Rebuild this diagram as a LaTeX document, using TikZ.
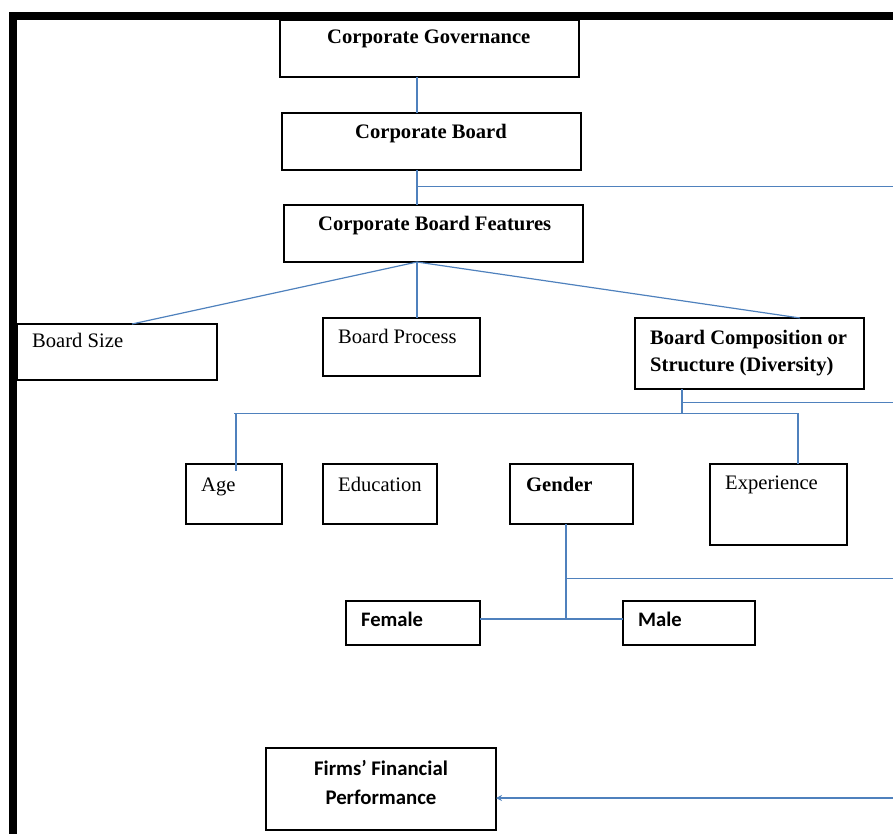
\documentclass[tikz,border=0pt]{standalone}
\usepackage{fontspec}
\setmainfont{Liberation Serif}
\newfontfamily\calib{Carlito}
\usetikzlibrary{arrows.meta}
\definecolor{lineblue}{HTML}{4F81BD}
\begin{document}
\begin{tikzpicture}[x=1pt,y=-1pt,
  box/.style={draw=black, line width=1.3pt, inner sep=0pt, outer sep=0pt, rectangle},
  conn/.style={draw=lineblue, line width=1.2pt},
  ser/.style={anchor=base west, inner sep=0pt, font=\fontsize{20.6}{24}\selectfont},
  serb/.style={anchor=base west, inner sep=0pt, font=\fontsize{20.6}{24}\selectfont\bfseries},
  sanb/.style={anchor=base west, inner sep=0pt, font=\calib\fontsize{20.6}{24}\selectfont\bfseries},
  sanc/.style={anchor=base, inner sep=0pt, font=\calib\fontsize{20.8}{24}\selectfont\bfseries},
  frame/.style={fill=black, draw=none}]
\useasboundingbox (0,0) rectangle (893,834);
% thick frame
\fill[frame] (9,12) rectangle (893,20);
\fill[frame] (9,12) rectangle (17,834);
% boxes
\node[box, minimum width=299pt, minimum height=57pt] (CG) at (429.5,48.5) {};
\node[box, minimum width=299pt, minimum height=57pt] (CB) at (431.5,141.5) {};
\node[box, minimum width=299pt, minimum height=57pt] (CBF) at (433.5,233.5) {};
\node[box, minimum width=200pt, minimum height=56pt] (BS) at (117,352) {};
\node[box, minimum width=157pt, minimum height=58pt] (BP) at (401.5,347) {};
\node[box, minimum width=229pt, minimum height=71pt] (BC) at (749.5,353.5) {};
\node[box, minimum width=96pt, minimum height=60pt] (AGE) at (234,494) {};
\node[box, minimum width=114pt, minimum height=60pt] (EDU) at (380,494) {};
\node[box, minimum width=123pt, minimum height=60pt] (GEN) at (571.5,494) {};
\node[box, minimum width=137pt, minimum height=81pt] (EXP) at (778.5,504.5) {};
\node[box, minimum width=134pt, minimum height=44pt] (FEM) at (413,623) {};
\node[box, minimum width=132pt, minimum height=44pt] (MAL) at (689,623) {};
\node[box, minimum width=230pt, minimum height=82pt] (FFP) at (381,789) {};
% texts
\node[serb] (tCG) at (327,44) {Corporate Governance};
\node[serb] (tCB) at (355,139) {Corporate Board};
\node[serb] (tCBF) at (318,231) {Corporate Board Features};
\node[ser] (tBS) at (32,347) {Board Size};
\node[ser] (tBP) at (338,343) {Board Process};
\node[serb] (tBC1) at (650,344) {Board Composition or};
\node[serb] (tBC2) at (650,371) {Structure (Diversity)};
\node[ser] (tAGE) at (201,491) {Age};
\node[ser] (tEDU) at (338,491) {Education};
\node[serb] (tGEN) at (526,491) {Gender};
\node[ser] (tEXP) at (725,489) {Experience};
\node[sanb] (tFEM) at (361,626) {Female};
\node[sanb] (tMAL) at (638,626) {Male};
\node[sanc] (tFFP1) at (381,775) {Firms’ Financial};
\node[sanc] (tFFP2) at (381,804) {Performance};
% reference coordinates
\coordinate (xA) at (417,0);
\coordinate (xBC) at (682,0);
\coordinate (xG) at (566,0);
\coordinate (rB) at (893,186.5);
\coordinate (rC) at (893,402.5);
\coordinate (rG) at (893,578.5);
\coordinate (rF) at (893,798);
\coordinate (bsTop) at (132,0);
\coordinate (bcTop) at (800,0);
\coordinate (jBC) at (682,413.5);
\coordinate (hL) at (234,413.5);
\coordinate (hR) at (799,413.5);
\coordinate (ageIn) at (236,471);
\coordinate (ageTop) at (236,413.5);
\coordinate (expTop) at (798,413.5);
\coordinate (jG) at (566,619);
\coordinate (jB) at (417,186.5);
% connectors
\draw[conn] (CG.south -| xA) -- (CB.north -| xA);
\draw[conn] (CB.south -| xA) -- (CBF.north -| xA);
\draw[conn] (jB) -- (rB);
\draw[conn] (CBF.south -| xA) -- (BS.north -| bsTop);
\draw[conn] (CBF.south -| xA) -- (BP.north -| xA);
\draw[conn] (CBF.south -| xA) -- (BC.north -| bcTop);
\draw[conn] (BC.south -| xBC) -- (jBC);
\draw[conn] (BC.south -| xBC) |- (rC);
\draw[conn] (hL) -- (hR);
\draw[conn] (ageTop) -- (ageIn);
\draw[conn] (expTop) -- (EXP.north -| expTop);
\draw[conn] (GEN.south -| xG) -- (jG);
\draw[conn] (GEN.south -| xG) |- (rG);
\draw[conn] (FEM.east |- jG) -- (MAL.west |- jG);
\draw[conn, -{Stealth[length=6pt, width=6pt]}] (rF) -- (FFP.east |- rF);
\end{tikzpicture}
\end{document}
